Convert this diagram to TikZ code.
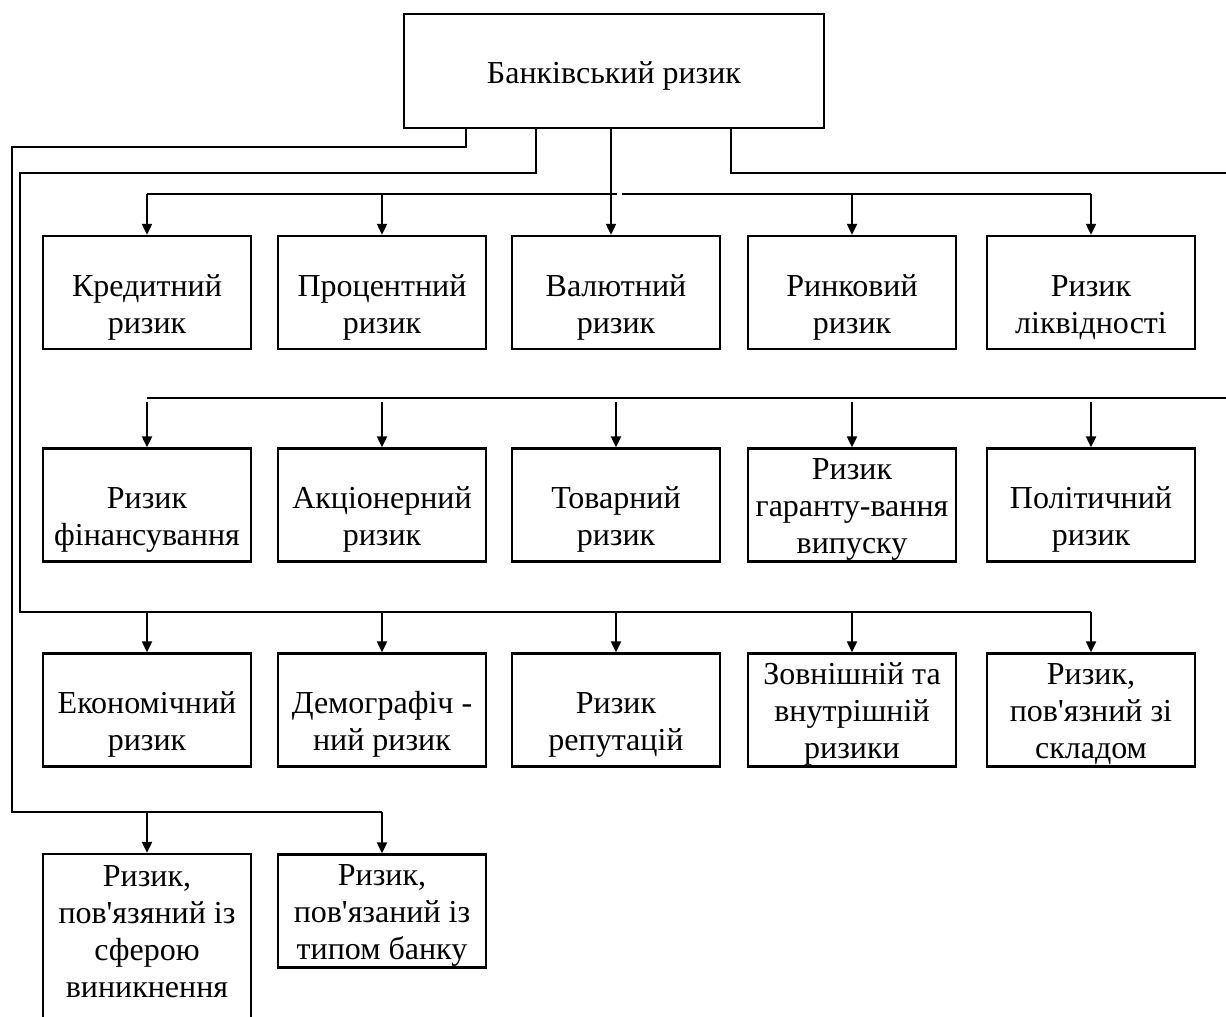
\documentclass[tikz,border=0pt]{standalone}
\usepackage{fontspec}
\setmainfont{Liberation Serif}[Ligatures=TeXOff]
\usetikzlibrary{arrows.meta}
\tikzset{
  riskbox/.style={draw, line width=2.3pt, minimum width=208pt, minimum height=113pt,
    inner sep=0pt, align=center, font=\fontsize{32}{36.8}\selectfont, text depth=7pt},
  twoline/.style={riskbox, text height=88pt},
  threeline/.style={riskbox, text height=104pt},
  link/.style={line width=2.6pt},
  arr/.style={line width=2pt, -{Triangle[length=11pt,width=10pt]}}
}

\begin{document}
\begin{tikzpicture}[x=1pt,y=-1pt]
    \useasboundingbox (0,0) rectangle (1226,1017);

    % Top box
    \node[riskbox, minimum width=420pt, minimum height=114pt, text height=31pt] (bank) at (614,71) {Банківський ризик};

    % Row 1
    \node[twoline] (credit)    at (147,292.5)  {Кредитний\\ризик};
    \node[twoline] (interest)  at (382,292.5)  {Процентний\\ризик};
    \node[twoline] (currency)  at (616,292.5)  {Валютний\\ризик};
    \node[twoline] (market)    at (852,292.5)  {Ринковий\\ризик};
    \node[twoline] (liquidity) at (1091,292.5) {Ризик\\ліквідності};

    % Row 2
    \node[twoline]   (funding)      at (147,505)  {Ризик\\фінансування};
    \node[twoline]   (equity)       at (382,505)  {Акціонерний\\ризик};
    \node[twoline]   (commodity)    at (616,505)  {Товарний\\ризик};
    \node[threeline] (underwriting) at (852,505)  {Ризик\\гаранту-вання\\випуску};
    \node[twoline]   (political)    at (1091,505) {Політичний\\ризик};

    % Row 3
    \node[twoline]   (economic)    at (147,710)  {Економічний\\ризик};
    \node[twoline]   (demographic) at (382,710)  {Демографіч -\\ний ризик};
    \node[twoline]   (reputation)  at (616,710)  {Ризик\\репутацій};
    \node[threeline] (extint)      at (852,710)  {Зовнішній та\\внутрішній\\ризики};
    \node[threeline] (staff)       at (1091,710) {Ризик,\\пов'язний зі\\складом};

    % Row 4
    \node[riskbox, minimum height=200pt, text height=93pt] (sphere) at (147,954) {Ризик,\\пов'язяний із\\сферою\\виникнення};
    \node[threeline] (banktype) at (382,911) {Ризик,\\пов'язаний із\\типом банку};

    % Bus points
    \coordinate (busA)   at (148,194);
    \coordinate (leftA)  at (12,147);
    \coordinate (busD)   at (12,812);
    \coordinate (leftB)  at (20,173);
    \coordinate (busC)   at (20,612);
    \coordinate (rightC) at (1240,173);
    \coordinate (busB)   at (1240,398);

    % Row 1 links
    \draw[arr] ([xshift=-3pt]bank.south) -- ([xshift=-3pt]bank.south |- currency.north);
    \draw[link] (credit.north |- busA) -- ([xshift=3pt]bank.south |- busA);
    \draw[link] ([xshift=8pt]bank.south |- busA) -- (liquidity.north |- busA);
    \foreach \n in {credit,interest,market,liquidity}
        \draw[arr] (\n.north |- busA) -- (\n);

    % Row 2 links
    \draw[link] ([xshift=117pt]bank.south) |- (rightC) -- (busB) -- (busB -| funding.north);
    \foreach \n in {funding,equity,commodity,underwriting,political}
        \draw[arr] ([yshift=-4pt]busB -| \n.north) -- (\n);

    % Row 3 links
    \draw[link] ([xshift=-78pt]bank.south) |- (leftB) -- (busC) -- (busC -| staff.north);
    \foreach \n in {economic,demographic,reputation,extint,staff}
        \draw[arr] (busC -| \n.north) -- (\n);

    % Row 4 links
    \draw[link] ([xshift=-148pt]bank.south) |- (leftA) -- (busD) -- (busD -| banktype.north);
    \foreach \n in {sphere,banktype}
        \draw[arr] (busD -| \n.north) -- (\n);
\end{tikzpicture}
\end{document}
